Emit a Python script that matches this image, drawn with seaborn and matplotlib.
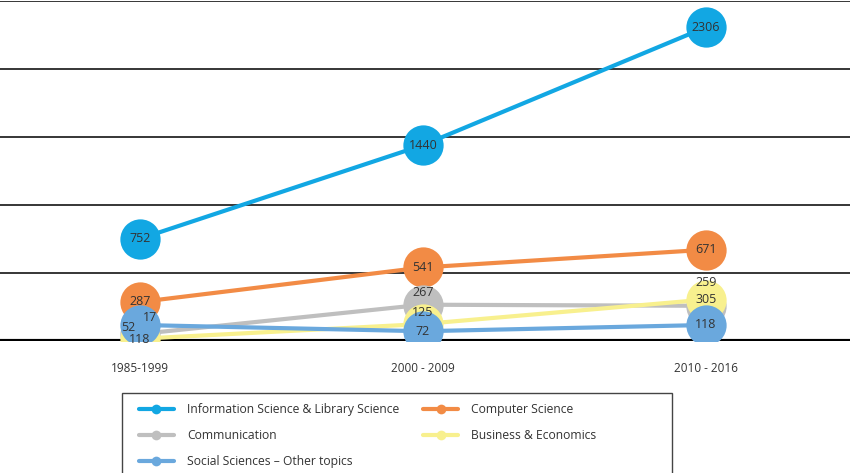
import matplotlib
matplotlib.use("Agg")
import matplotlib.pyplot as plt
from matplotlib.lines import Line2D
from matplotlib.patches import Rectangle
import seaborn as sns
import pandas as pd

# Datos
periodos = ["1985-1999", "2000 - 2009", "2010 - 2016"]
info_sci = [752, 1440, 2306]
comp_sci = [287, 541, 671]
comunicacion = [52, 267, 259]
negocios = [17, 125, 305]
sociales = [118, 72, 118]

series = {
    "Information Science & Library Science": info_sci,
    "Computer Science": comp_sci,
    "Communication": comunicacion,
    "Business & Economics": negocios,
    "Social Sciences \u2013 Other topics": sociales,
}
colores = {
    "Information Science & Library Science": "#12a7e3",
    "Computer Science": "#f28b45",
    "Communication": "#bfbfbf",
    "Business & Economics": "#f8f08e",
    "Social Sciences \u2013 Other topics": "#6aa8dd",
}

filas = []
for campo, vals in series.items():
    for p, v in zip(periodos, vals):
        filas.append({"Periodo": p, "Valor": v, "Campo": campo})
df = pd.DataFrame(filas)

sns.set_style("white")
plt.rcParams["font.family"] = ["Open Sans", "DejaVu Sans"]

fig = plt.figure(figsize=(8.5, 4.73), dpi=100)
ax = fig.add_axes([0, 0.279, 1, 0.719])

# lineas de referencia
for g in [500, 1000, 1500, 2000, 2500]:
    ax.axhline(g, color="black", lw=1.1, zorder=0)
ax.axhline(0, color="black", lw=3, zorder=0)

sns.lineplot(data=df, x="Periodo", y="Valor", hue="Campo", palette=colores,
             marker="o", markersize=29, markeredgewidth=0, linewidth=3,
             sort=False, legend=False, ax=ax)

# desplazamientos de etiquetas donde se solapan (pixeles)
desplaz = {
    ("Business & Economics", 0): (10, 21),
    ("Communication", 0): (-12, 6),
    ("Social Sciences \u2013 Other topics", 0): (0, -15),
    ("Communication", 1): (0, 12),
    ("Business & Economics", 1): (0, 12),
    ("Communication", 2): (0, 23),
}
for campo, vals in series.items():
    for i, v in enumerate(vals):
        dx, dy = desplaz.get((campo, i), (0, 0))
        ax.annotate(str(v), (i, v), xytext=(dx, dy), textcoords="offset pixels",
                    ha="center", va="center", fontsize=9, color="#333333", zorder=10)

ax.set_xlim(-0.495, 2.51)
ax.set_ylim(0, 2500)
ax.set_yticks([])
ax.set_xlabel("")
ax.set_ylabel("")
ax.tick_params(axis="x", length=0, labelsize=8.5, labelcolor="#333333", pad=15)
for s in ax.spines.values():
    s.set_visible(False)
ax.patch.set_alpha(0)

# marco de la leyenda
fig.patches.append(Rectangle((0.1435, -0.01), 0.647, 0.179, transform=fig.transFigure,
                             fill=False, edgecolor="#444444", lw=1))

handles = [Line2D([0], [0], color=colores[c], lw=3, marker="o", markersize=7,
                  markeredgewidth=0) for c in series]
orden = [0, 2, 4, 1, 3]
nombres = list(series.keys())
leg = fig.legend([handles[i] for i in orden], [nombres[i] for i in orden],
                 loc="upper left", bbox_to_anchor=(0.1495, 0.173), ncol=2,
                 fontsize=8.7, frameon=False,
                 handlelength=2.85, columnspacing=2.0, labelspacing=1.08,
                 borderpad=0.5, handletextpad=1.1)
for t in leg.get_texts():
    t.set_color("#333333")

fig.savefig("out.png", dpi=100)
